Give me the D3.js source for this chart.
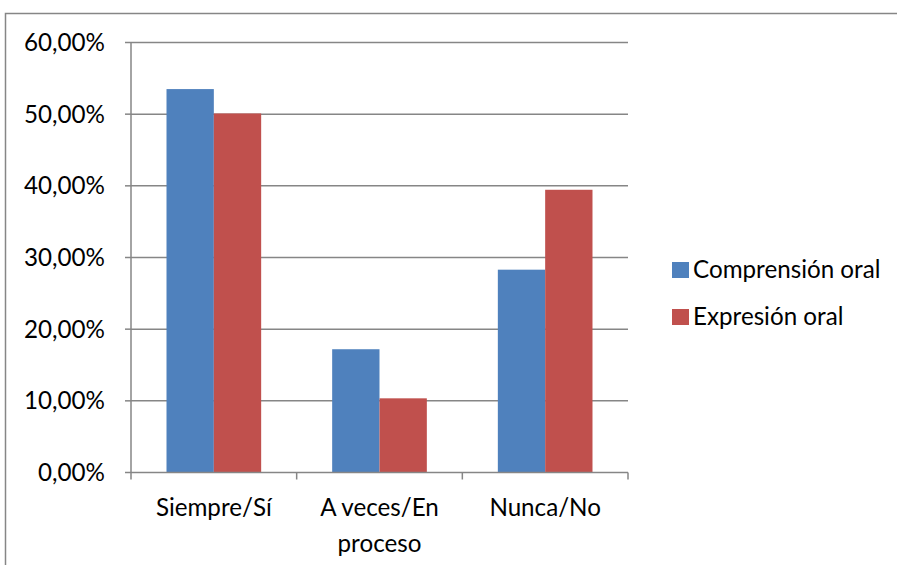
<!DOCTYPE html>
<html><head><meta charset="utf-8">
<script src="https://cdn.jsdelivr.net/npm/d3@7"></script>
<style>body{margin:0;background:#fff}svg{display:block}</style>
</head><body>
<svg id="c" width="897" height="565"></svg>
<script>
const categories = [["Siempre/Sí"], ["A veces/En", "proceso"], ["Nunca/No"]];
const seriesNames = ["Comprensión oral", "Expresión oral"];
const comprension = [0.535, 0.172, 0.283];
const expresion = [0.501, 0.1035, 0.3945];
const yTicks = [0, 0.1, 0.2, 0.3, 0.4, 0.5, 0.6];
const colors = ["#4F81BD", "#C0504D"];

const svg = d3.select("#c");
const font = "Lato, 'Open Sans', sans-serif";
const fs = 24.2;
const grey = "#868686";

svg.append("rect").attr("x", 5.5).attr("y", 13.5).attr("width", 900).attr("height", 600)
  .attr("fill", "none").attr("stroke", grey).attr("stroke-width", 1.5);

const catKeys = categories.map(c => c.join(" "));
const x = d3.scaleBand().domain(catKeys).range([131, 628]).padding(0);
const y = d3.scaleLinear().domain([0, 0.6]).range([472.5, 42.5]);
const fmt = v => d3.format(".2f")(v * 100).replace(".", ",") + "%";

// gridlines
svg.append("g").selectAll("line").data(yTicks.filter(d => d > 0)).join("line")
  .attr("x1", 131).attr("x2", 628).attr("y1", d => y(d)).attr("y2", d => y(d))
  .attr("stroke", grey).attr("stroke-width", 1.5);

// bars
const bw = x.bandwidth() * 0.2857;
const series = [comprension, expresion];
series.forEach((vals, si) => {
  svg.append("g").selectAll("rect").data(vals).join("rect")
    .attr("x", (d, i) => x(catKeys[i]) + (x.bandwidth() - 2 * bw) / 2 + si * bw)
    .attr("y", d => y(d))
    .attr("width", bw)
    .attr("height", d => y(0) - y(d))
    .attr("fill", colors[si]);
});

// y axis
svg.append("line").attr("x1", 131).attr("x2", 131).attr("y1", y(0.6)).attr("y2", y(0))
  .attr("stroke", grey).attr("stroke-width", 1.5);
svg.append("g").selectAll("line").data(yTicks).join("line")
  .attr("x1", 125).attr("x2", 131).attr("y1", d => y(d)).attr("y2", d => y(d))
  .attr("stroke", grey).attr("stroke-width", 1.5);
svg.append("g").selectAll("text").data(yTicks).join("text")
  .attr("x", 105).attr("y", d => y(d) + 8.5)
  .attr("text-anchor", "end").attr("font-family", font).attr("font-size", fs)
  .attr("fill", "#000").text(fmt);

// x axis
svg.append("line").attr("x1", 131).attr("x2", 628).attr("y1", y(0)).attr("y2", y(0))
  .attr("stroke", grey).attr("stroke-width", 1.5);
const bounds = catKeys.map(k => x(k)).concat([628]);
svg.append("g").selectAll("line").data(bounds).join("line")
  .attr("x1", d => d).attr("x2", d => d).attr("y1", y(0)).attr("y2", y(0) + 7)
  .attr("stroke", grey).attr("stroke-width", 1.5);
const xl = svg.append("g").selectAll("text").data(categories).join("text")
  .attr("x", (d, i) => x(catKeys[i]) + x.bandwidth() / 2)
  .attr("y", 516).attr("text-anchor", "middle")
  .attr("font-family", font).attr("font-size", fs).attr("fill", "#000");
xl.selectAll("tspan").data(d => d).join("tspan")
  .attr("x", function() { return this.parentNode.getAttribute("x"); })
  .attr("dy", (d, i) => i === 0 ? 0 : 36).text(d => d);

// legend
const lg = svg.append("g").selectAll("g").data(seriesNames).join("g")
  .attr("transform", (d, i) => `translate(672, ${262 + i * 47})`);
lg.append("rect").attr("width", 17).attr("height", 16).attr("fill", (d, i) => colors[i]);
lg.append("text").attr("x", 21).attr("y", 16).attr("font-family", font).attr("font-size", fs)
  .attr("fill", "#000").text(d => d);
</script>
</body></html>
